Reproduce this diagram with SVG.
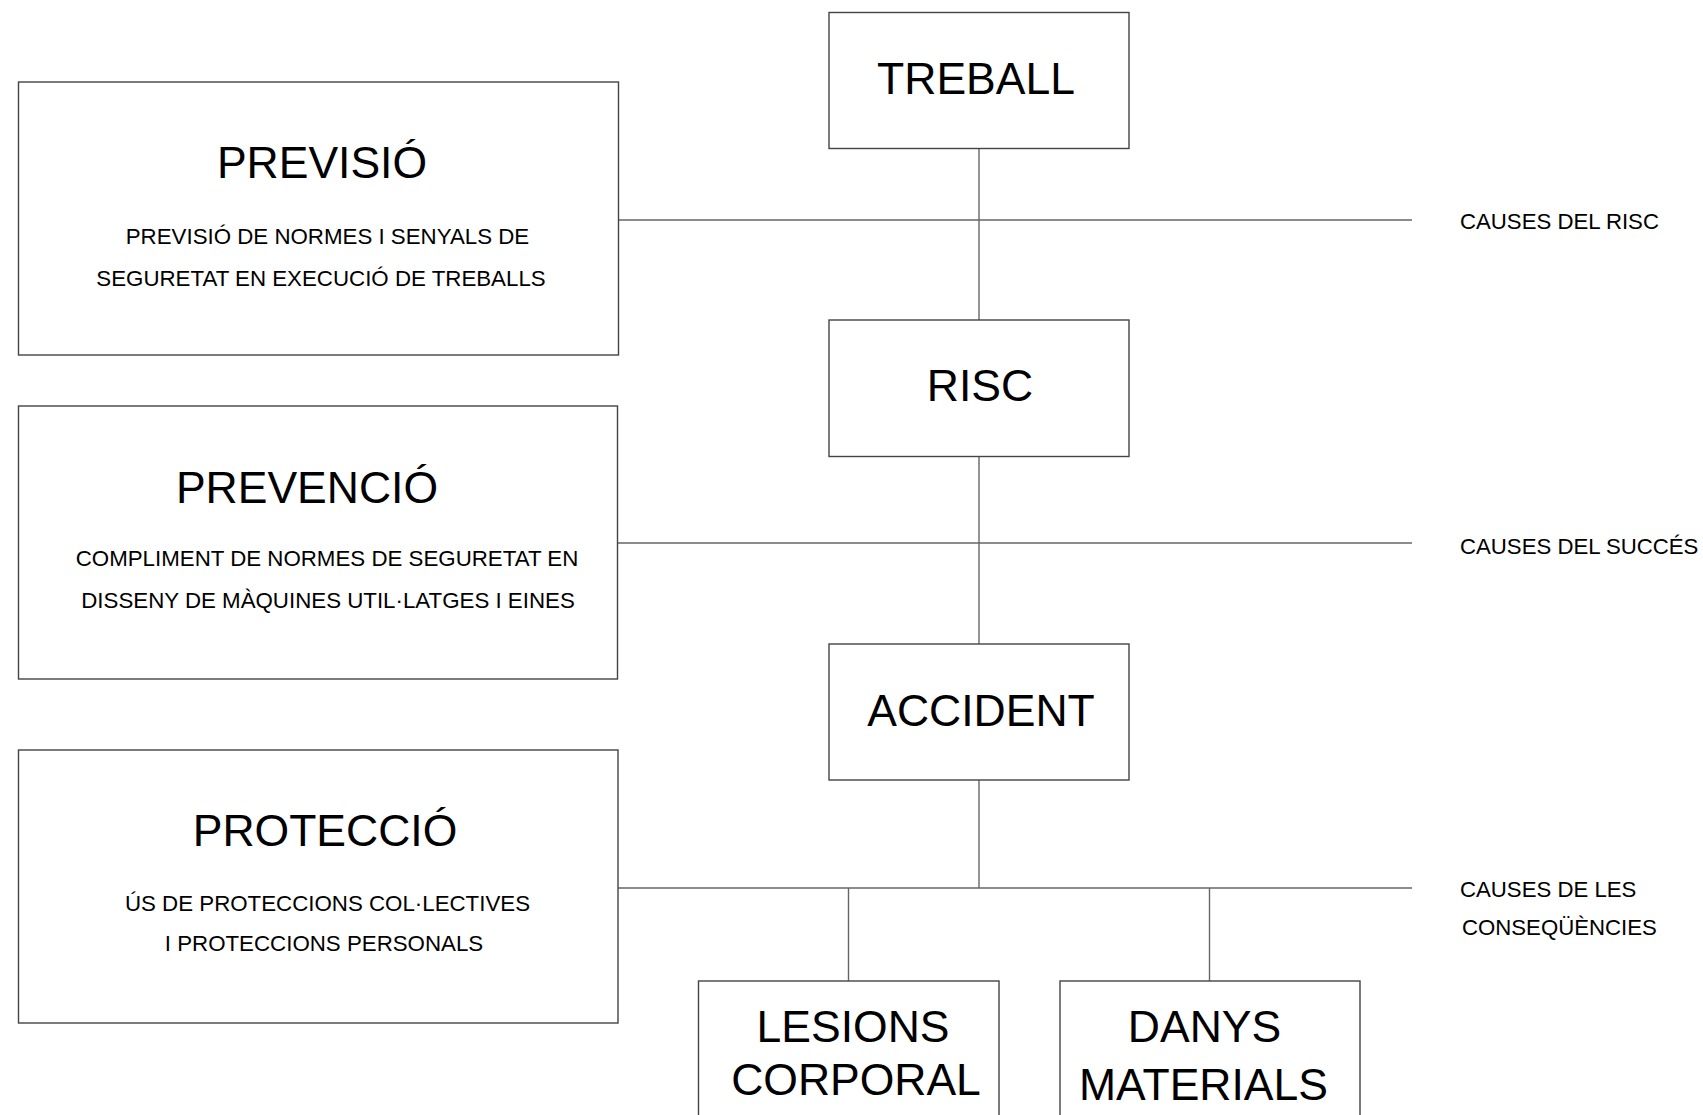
<svg xmlns="http://www.w3.org/2000/svg" width="1703" height="1115" viewBox="0 0 1703 1115">
<style>
.box{fill:#fff;stroke:#444;stroke-width:1.4}
.ln{stroke:#666;stroke-width:1.4;fill:none}
.big{font-family:"Liberation Sans",Arial,sans-serif;font-size:44.5px;fill:#000;text-anchor:middle}
.sub{font-family:"Liberation Sans",Arial,sans-serif;font-size:22.3px;fill:#000;text-anchor:middle}
.lab{font-family:"Liberation Sans",Arial,sans-serif;font-size:22.2px;fill:#000}
</style>
<rect width="1703" height="1115" fill="#fff"/>
<g id="connectors">
<line class="ln" x1="979" y1="148.5" x2="979" y2="320"/>
<line class="ln" x1="979" y1="456.5" x2="979" y2="644"/>
<line class="ln" x1="979" y1="780" x2="979" y2="888"/>
<line class="ln" x1="618.5" y1="220" x2="1412" y2="220"/>
<line class="ln" x1="618" y1="543" x2="1412" y2="543"/>
<line class="ln" x1="618" y1="888" x2="1412" y2="888"/>
<line class="ln" x1="848.5" y1="888" x2="848.5" y2="981"/>
<line class="ln" x1="1209.5" y1="888" x2="1209.5" y2="981"/>
</g>
<g id="previsio">
<rect class="box" x="18.5" y="82" width="600" height="273"/>
<text class="big" x="322" y="178">PREVISIÓ</text>
<text class="sub" x="327.5" y="244">PREVISIÓ DE NORMES I SENYALS DE</text>
<text class="sub" x="321" y="286">SEGURETAT EN EXECUCIÓ DE TREBALLS</text>
</g>
<g id="prevencio">
<rect class="box" x="18.5" y="406" width="599" height="273"/>
<text class="big" x="307" y="503">PREVENCIÓ</text>
<text class="sub" x="327" y="566">COMPLIMENT DE NORMES DE SEGURETAT EN</text>
<text class="sub" x="328" y="608">DISSENY DE MÀQUINES UTIL·LATGES I EINES</text>
</g>
<g id="proteccio">
<rect class="box" x="18.5" y="750" width="599.5" height="273"/>
<text class="big" x="325" y="846">PROTECCIÓ</text>
<text class="sub" x="327.5" y="911">ÚS DE PROTECCIONS COL·LECTIVES</text>
<text class="sub" x="324" y="951">I PROTECCIONS PERSONALS</text>
</g>
<g id="treball">
<rect class="box" x="829" y="12.5" width="300" height="136"/>
<text class="big" x="976" y="94">TREBALL</text>
</g>
<g id="risc">
<rect class="box" x="829" y="320" width="300" height="136.5"/>
<text class="big" x="980" y="401">RISC</text>
</g>
<g id="accident">
<rect class="box" x="829" y="644" width="300" height="136"/>
<text class="big" x="981" y="726">ACCIDENT</text>
</g>
<g id="lesions">
<rect class="box" x="698.5" y="981" width="300.5" height="150"/>
<text class="big" x="853" y="1042">LESIONS</text>
<text class="big" x="856" y="1095">CORPORAL</text>
</g>
<g id="danys">
<rect class="box" x="1060" y="981" width="300" height="150"/>
<text class="big" x="1204.5" y="1042">DANYS</text>
<text class="big" x="1203.5" y="1100">MATERIALS</text>
</g>
<g id="labels">
<text class="lab" x="1460" y="229">CAUSES DEL RISC</text>
<text class="lab" x="1460" y="554">CAUSES DEL SUCCÉS</text>
<text class="lab" x="1460" y="897">CAUSES DE LES</text>
<text class="lab" x="1462" y="935">CONSEQÜÈNCIES</text>
</g>
</svg>
